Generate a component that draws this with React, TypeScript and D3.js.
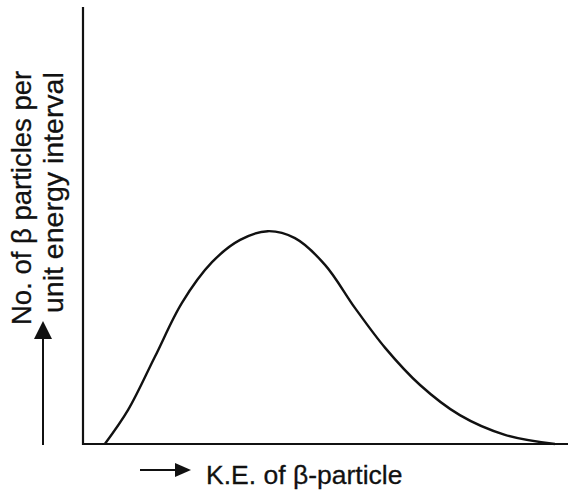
import React from "react";
import * as d3 from "d3";

const energy = [0.045, 0.093, 0.148, 0.204, 0.266, 0.324, 0.381, 0.437, 0.499, 0.561, 0.623, 0.695, 0.777, 0.87, 0.973];
const counts = [0.0, 0.078, 0.199, 0.323, 0.416, 0.467, 0.487, 0.471, 0.41, 0.311, 0.22, 0.135, 0.066, 0.021, 0.0];
const xLabel = "K.E. of β-particle";
const yLabelLines = ["No. of β particles per", "unit energy interval"];

const W = 569;
const H = 490;

export default function App() {
  const x = d3.scaleLinear().domain([0, 1]).range([83, 568]);
  const y = d3.scaleLinear().domain([0, 1]).range([444, 7]);
  const pts: [number, number][] = energy.map((e, i) => [e, counts[i]]);
  const line = d3
    .line<[number, number]>()
    .x((d) => x(d[0]))
    .y((d) => y(d[1]))
    .curve(d3.curveCatmullRom.alpha(0.5));
  const font = "'Liberation Sans', Arial, Helvetica, sans-serif";
  const ink = "#111";
  return (
    <svg
      width={W}
      height={H}
      style={{ position: "absolute", left: 0, top: 0, background: "#fff" }}
    >
      {/* axes */}
      <line x1={x(0)} y1={y(1)} x2={x(0)} y2={y(0) + 1} stroke={ink} strokeWidth={2.2} />
      <line x1={x(0) - 1} y1={y(0)} x2={x(1)} y2={y(0)} stroke={ink} strokeWidth={2.2} />
      {/* curve */}
      <path d={line(pts) || ""} fill="none" stroke={ink} strokeWidth={2.4} />
      {/* y arrow */}
      <line x1={43} y1={445} x2={43} y2={335} stroke={ink} strokeWidth={2} />
      <path d="M34,339 L43,321 L52,339 Z" fill={ink} />
      {/* x arrow */}
      <line x1={140} y1={470} x2={178} y2={470} stroke={ink} strokeWidth={2} />
      <path d="M175,463 L191,470 L175,477 Z" fill={ink} />
      <text x={206} y={484} fontFamily={font} fontSize={26.5} fill={ink} stroke={ink} strokeWidth={0.3}>
        {xLabel}
      </text>
      <text
        transform="translate(31,325) rotate(-90)"
        fontFamily={font}
        fontSize={27.5}
        fill={ink}
        stroke={ink}
        strokeWidth={0.3}
      >
        {yLabelLines[0]}
      </text>
      <text
        transform="translate(63,313) rotate(-90)"
        fontFamily={font}
        fontSize={28.5}
        fill={ink}
        stroke={ink}
        strokeWidth={0.3}
      >
        {yLabelLines[1]}
      </text>
    </svg>
  );
}
